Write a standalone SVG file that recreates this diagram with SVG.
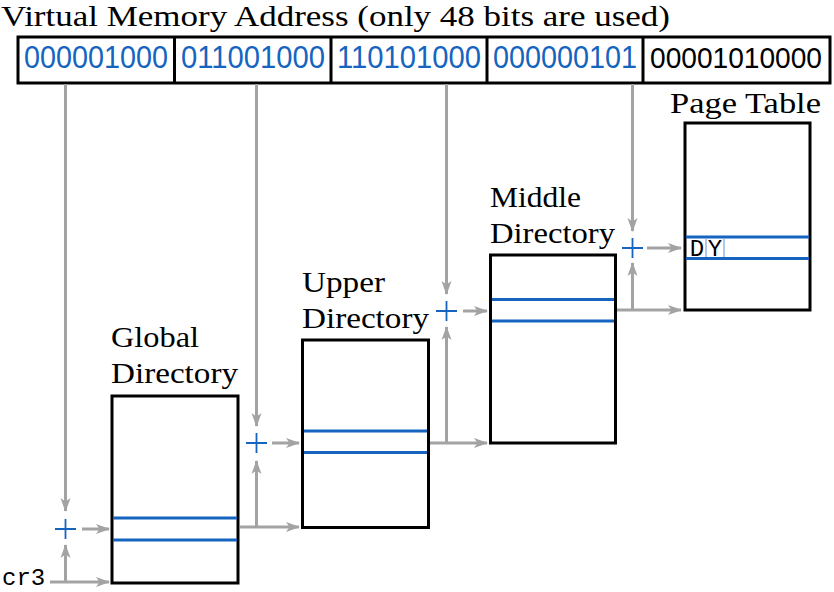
<svg xmlns="http://www.w3.org/2000/svg" width="834" height="592" viewBox="0 0 834 592">
<style>
.box{fill:#fff;stroke:#000;stroke-width:3}
.row{stroke:#1565c0;stroke-width:3}
.cell{stroke:#8fb8e6;stroke-width:1.5;fill:none}
.lbl{font-family:"Liberation Serif","Times New Roman",serif;font-size:30px;fill:#000}
.bits{font-family:"Liberation Sans",Arial,sans-serif;font-size:31px;fill:#1565c0}
.bitsk{font-family:"Liberation Sans",Arial,sans-serif;font-size:30px;fill:#000}
.mono{font-family:"Liberation Mono","DejaVu Sans Mono",monospace;fill:#000}
.plus{stroke:#1565c0;stroke-width:1.8}
.arr{stroke:#a3a3a3;stroke-width:3;fill:none}
</style>
<defs>
<marker id="ah" viewBox="0 0 14 11" refX="13" refY="5.5" markerWidth="14" markerHeight="11" markerUnits="userSpaceOnUse" orient="auto">
<path d="M0,0.5 L14,5.5 L0,10.5 L3.5,5.5 Z" fill="#a3a3a3"/>
</marker>
</defs>
<rect width="834" height="592" fill="#fff"/>

<g id="address">
<text class="lbl" x="1" y="26" font-size="28" textLength="669" lengthAdjust="spacingAndGlyphs">Virtual Memory Address (only 48 bits are used)</text>
<rect x="18" y="37" width="812" height="46" fill="#fff" stroke="#000" stroke-width="3"/>
<line x1="174.5" y1="37" x2="174.5" y2="83" stroke="#000" stroke-width="3"/>
<line x1="331" y1="37" x2="331" y2="83" stroke="#000" stroke-width="3"/>
<line x1="487" y1="37" x2="487" y2="83" stroke="#000" stroke-width="3"/>
<line x1="643" y1="37" x2="643" y2="83" stroke="#000" stroke-width="3"/>
<text class="bits" x="96" y="68" text-anchor="middle" textLength="144" lengthAdjust="spacingAndGlyphs">000001000</text>
<text class="bits" x="253" y="68" text-anchor="middle" textLength="144" lengthAdjust="spacingAndGlyphs">011001000</text>
<text class="bits" x="409" y="68" text-anchor="middle" textLength="144" lengthAdjust="spacingAndGlyphs">110101000</text>
<text class="bits" x="565" y="68" text-anchor="middle" textLength="144" lengthAdjust="spacingAndGlyphs">000000101</text>
<text class="bitsk" x="736" y="68" text-anchor="middle" textLength="172" lengthAdjust="spacingAndGlyphs">00001010000</text>
</g>

<g id="cr3">
<text class="mono" x="2" y="585" font-size="24">cr3</text>
</g>

<g id="global-directory">
<text class="lbl" x="111" y="347" textLength="88" lengthAdjust="spacingAndGlyphs">Global</text>
<text class="lbl" x="111" y="383" textLength="127" lengthAdjust="spacingAndGlyphs">Directory</text>
<rect class="box" x="112" y="396" width="126" height="187"/>
<line class="row" x1="113" y1="518" x2="237" y2="518"/>
<line class="row" x1="113" y1="540" x2="237" y2="540"/>
</g>

<g id="upper-directory">
<text class="lbl" x="302" y="292" textLength="83" lengthAdjust="spacingAndGlyphs">Upper</text>
<text class="lbl" x="302" y="328" textLength="127" lengthAdjust="spacingAndGlyphs">Directory</text>
<rect class="box" x="302.5" y="340" width="126" height="187.5"/>
<line class="row" x1="304" y1="431" x2="427" y2="431"/>
<line class="row" x1="304" y1="452.5" x2="427" y2="452.5"/>
</g>

<g id="middle-directory">
<text class="lbl" x="490" y="207" textLength="91" lengthAdjust="spacingAndGlyphs">Middle</text>
<text class="lbl" x="490" y="243" textLength="125" lengthAdjust="spacingAndGlyphs">Directory</text>
<rect class="box" x="490.5" y="255" width="125" height="188"/>
<line class="row" x1="492" y1="299.5" x2="614" y2="299.5"/>
<line class="row" x1="492" y1="321" x2="614" y2="321"/>
</g>

<g id="page-table">
<text class="lbl" x="670" y="113" textLength="151" lengthAdjust="spacingAndGlyphs">Page Table</text>
<rect class="box" x="685" y="123" width="125" height="187"/>
<line class="row" x1="686" y1="237" x2="809" y2="237"/>
<line class="row" x1="686" y1="258.5" x2="809" y2="258.5"/>
<line class="cell" x1="706" y1="238.5" x2="706" y2="257"/>
<line class="cell" x1="724" y1="238.5" x2="724" y2="257"/>
<text class="mono" x="697" y="256" font-size="24" text-anchor="middle">D</text>
<text class="mono" x="715" y="256" font-size="24" text-anchor="middle">Y</text>
</g>

<g id="adders">
<path class="plus" d="M55,529 H76 M65.5,519 V539"/>
<path class="plus" d="M246,443 H267 M256.5,433 V453"/>
<path class="plus" d="M436,311 H457 M446.5,301 V321"/>
<path class="plus" d="M622,248 H643 M632.5,238 V258"/>
</g>

<g id="connectors">
<line class="arr" x1="65.5" y1="84" x2="65.5" y2="511" marker-end="url(#ah)"/>
<line class="arr" x1="256.5" y1="84" x2="256.5" y2="426" marker-end="url(#ah)"/>
<line class="arr" x1="446.5" y1="84" x2="446.5" y2="294" marker-end="url(#ah)"/>
<line class="arr" x1="632.5" y1="84" x2="632.5" y2="231" marker-end="url(#ah)"/>

<line class="arr" x1="50" y1="582" x2="109" y2="582" marker-end="url(#ah)"/>
<line class="arr" x1="65.5" y1="582" x2="65.5" y2="545" marker-end="url(#ah)"/>
<line class="arr" x1="82" y1="529" x2="109" y2="529" marker-end="url(#ah)"/>

<line class="arr" x1="240" y1="527" x2="299" y2="527" marker-end="url(#ah)"/>
<line class="arr" x1="256.5" y1="527" x2="256.5" y2="461" marker-end="url(#ah)"/>
<line class="arr" x1="272" y1="443" x2="299" y2="443" marker-end="url(#ah)"/>

<line class="arr" x1="430" y1="443" x2="487" y2="443" marker-end="url(#ah)"/>
<line class="arr" x1="446.5" y1="443" x2="446.5" y2="327" marker-end="url(#ah)"/>
<line class="arr" x1="463" y1="311" x2="487" y2="311" marker-end="url(#ah)"/>

<line class="arr" x1="617" y1="310" x2="681" y2="310" marker-end="url(#ah)"/>
<line class="arr" x1="632.5" y1="310" x2="632.5" y2="263" marker-end="url(#ah)"/>
<line class="arr" x1="647" y1="248" x2="681" y2="248" marker-end="url(#ah)"/>
</g>
</svg>
